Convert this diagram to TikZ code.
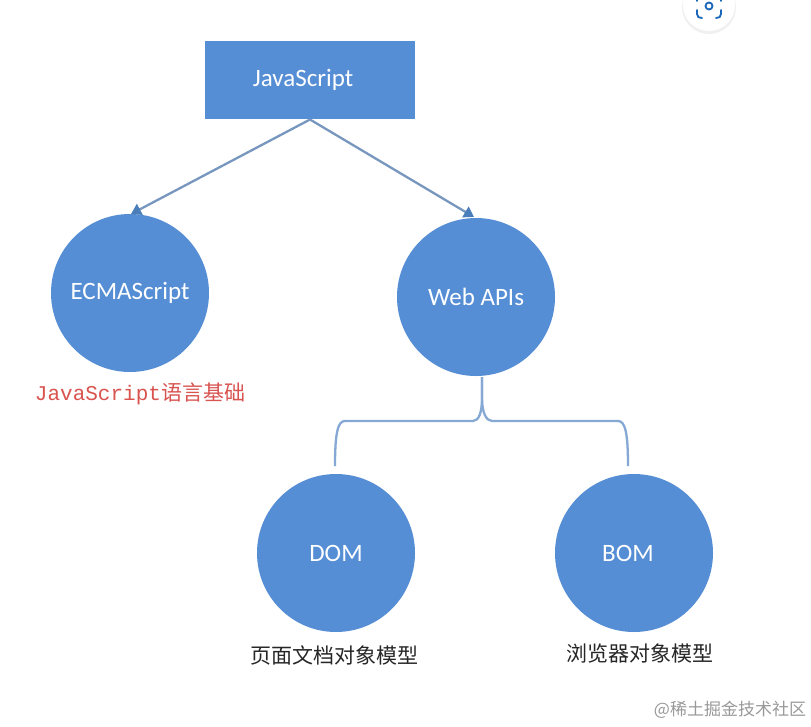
\documentclass[tikz,border=0pt]{standalone}
\usepackage{fontspec}
\setmainfont{Carlito}
\newfontfamily\cjk{Noto Sans CJK SC}
\newfontfamily\monof{Liberation Mono}
\definecolor{fillblue}{HTML}{558ED5}
\definecolor{linkblue}{HTML}{85A8D4}
\definecolor{headblue}{HTML}{4A7EBB}
\definecolor{iconblue}{HTML}{1A66B8}
\definecolor{redtxt}{HTML}{D9534F}
\usetikzlibrary{arrows.meta}
\tikzset{
  boxnode/.style={fill=fillblue,draw=none,minimum width=210pt,minimum height=78pt,inner sep=0pt,text=white,font=\fontsize{25}{27}\selectfont},
  circnode/.style={circle,fill=fillblue,draw=none,minimum size=158pt,inner sep=0pt,text=white,font=\fontsize{25}{27}\selectfont},
  arrowlink/.style={draw=linkblue!90!black,line width=2.3pt,-{Triangle[length=10pt,width=12pt,color=headblue]}},
  bracket/.style={draw=linkblue,line width=2.3pt},
  caption/.style={inner sep=0pt,text=black!85,font=\cjk\fontsize{21}{23}\selectfont}
}
\begin{document}
\begin{tikzpicture}[x=1pt,y=-1pt]
\useasboundingbox (0,0) rectangle (811,726);
\fill[white] (0,0) rectangle (811,726);
% floating lens button
\fill[black!6] (709,7) circle (27);
\fill[white] (709,5) circle (26);
\draw[iconblue,line width=1.8pt,line cap=round] (697,10) -- (697,14) .. controls (697,17) and (699,18) .. (702,18);
\draw[iconblue,line width=1.8pt,line cap=round] (721,10) -- (721,14) .. controls (721,17) and (719,18) .. (716,18);
\draw[iconblue,line width=1.8pt,line cap=round] (697,0) -- (697,1);
\draw[iconblue,line width=1.8pt,line cap=round] (721,0) -- (721,1);
\draw[iconblue,line width=1.8pt] (709,6) circle (3.5);
\node[boxnode] (js) at (310,80) {\hspace*{-14pt}JavaScript};
\node[circnode] (es) at (130,293) {ECMAScript};
\node[circnode] (web) at (476,297) {Web APIs};
\node[circnode] (dom) at (336,553) {\raisebox{-1pt}{DOM}};
\node[circnode] (bom) at (634,553) {\raisebox{-1pt}{\hspace*{-12pt}BOM}};
\coordinate (jsb) at (310,119.5);
\coordinate (webb) at (482,377);
\coordinate (domt) at (335,466);
\coordinate (bomt) at (628,466);
\draw[arrowlink] (jsb) -- (131,214);
\draw[arrowlink] (jsb) -- (474,217);
\draw[bracket,line join=round] (webb) -- (482,398) .. controls (482,412) and (479,421) .. (473,421) -- (345,421) .. controls (338,421) and (335,432) .. (domt);
\draw[bracket,line join=round] (webb) -- (482,398) .. controls (482,412) and (486,421) .. (492,421) -- (618,421) .. controls (625,421) and (628,432) .. (bomt);
\node[inner sep=0pt,text=redtxt,font=\fontsize{21}{23}\selectfont] (esc) at (140,394) {\monof JavaScript\cjk 语言基础};
\node[caption] (domc) at (334,655) {页面文档对象模型};
\node[caption] (bomc) at (639.5,653) {浏览器对象模型};
\node[inner sep=0pt,text=black!40,font=\cjk\fontsize{17}{19}\selectfont] (wm) at (730,710) {@稀土掘金技术社区};
\end{tikzpicture}
\end{document}
